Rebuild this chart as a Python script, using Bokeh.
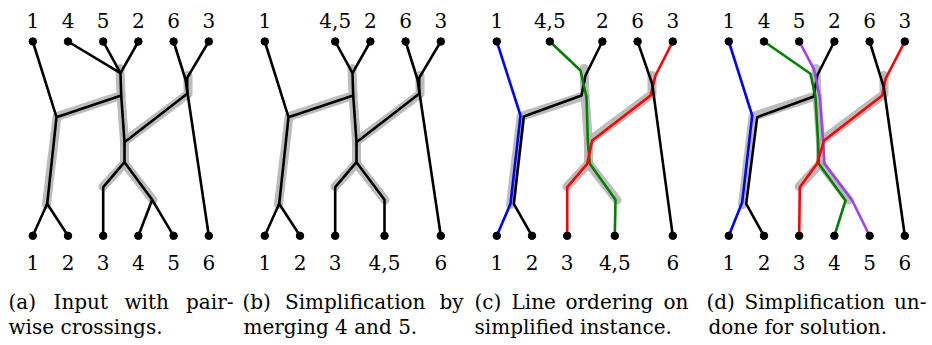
from bokeh.plotting import figure
from bokeh.models import Range1d
from bokeh.embed import file_html
from bokeh.resources import INLINE
from bokeh.core.properties import value

# ---------------- data (panel-local coordinates) ----------------
SLOT_X = [32.3, 67.5, 102.7, 137.9, 173.1, 208.3]
Y_TOP = 41.0
Y_BOT = 235.3
PANEL_DX = [0, 232, 464, 696]

# terminal labels / positions for each panel
TOP_LABELS = [["1", "4", "5", "2", "6", "3"],
              ["1", "4,5", "2", "6", "3"],
              ["1", "4,5", "2", "6", "3"],
              ["1", "4", "5", "2", "6", "3"]]
TOP_X = [[32.3, 67.5, 102.7, 137.9, 173.1, 208.3],
         [32.3, 102.7, 137.9, 173.1, 208.3],
         [32.3, 85.3, 137.9, 173.1, 208.3],
         [32.3, 67.5, 102.7, 137.9, 173.1, 208.3]]
BOT_LABELS = [["1", "2", "3", "4", "5", "6"],
              ["1", "2", "3", "4,5", "6"],
              ["1", "2", "3", "4,5", "6"],
              ["1", "2", "3", "4", "5", "6"]]
BOT_X = [[32.3, 67.5, 102.7, 137.9, 173.1, 208.3],
         [32.3, 67.5, 102.7, 152.0, 208.3],
         [32.3, 67.5, 102.7, 150.3, 208.3],
         [32.3, 67.5, 102.7, 137.9, 173.1, 208.3]]

# gray bundle shading (same in every panel)
GRAY_X = [[119.5, 120.5, 56.5, 46.0],
          [187.5, 187.5, 124.0, 124.0, 102.5],
          [120.5, 124.0],
          [124.0, 152.5]]
GRAY_Y = [[68.0, 95.0, 116.0, 204.0],
          [75.0, 93.5, 141.0, 163.0, 186.0],
          [95.0, 141.0],
          [163.0, 199.5]]

# panel (a): input edges
A_EDGE_X = [[32.3, 56.0, 46.7, 32.3],
            [46.7, 67.5],
            [67.5, 120.0],
            [102.7, 120.0],
            [137.9, 120.0, 120.7, 56.0],
            [208.3, 186.7, 186.7, 124.0, 124.0, 102.7, 102.7],
            [120.7, 124.0],
            [173.1, 185.0, 208.3],
            [124.0, 151.7, 173.1],
            [151.7, 137.9]]
A_EDGE_Y = [[41.0, 116.7, 203.3, 235.3],
            [203.3, 235.3],
            [41.0, 72.7],
            [41.0, 72.7],
            [41.0, 72.7, 95.0, 116.7],
            [41.0, 77.3, 93.3, 141.7, 161.7, 186.7, 235.3],
            [95.0, 141.7],
            [41.0, 79.0, 235.3],
            [161.7, 199.3, 235.3],
            [199.3, 235.3]]

# panel (b): simplified edges
B_EDGE_X = [[32.3, 56.0, 46.7, 32.3],
            [46.7, 67.5],
            [102.7, 120.0],
            [137.9, 120.0, 120.7, 56.0],
            [208.3, 186.7, 186.7, 124.0, 124.0, 102.7, 102.7],
            [120.7, 124.0],
            [173.1, 185.0, 208.3],
            [124.0, 152.0, 152.0]]
B_EDGE_Y = [[41.0, 116.7, 203.3, 235.3],
            [203.3, 235.3],
            [41.0, 72.7],
            [41.0, 72.7, 95.0, 116.7],
            [41.0, 77.3, 93.3, 141.7, 161.7, 186.7, 235.3],
            [95.0, 141.7],
            [41.0, 79.0, 235.3],
            [161.7, 199.3, 235.3]]

# panel (c): line ordering on simplified instance
C_LINE_X = [[32.3, 56.0, 46.0, 32.3],
            [137.9, 121.0, 117.0, 59.3, 49.3, 67.5],
            [85.3, 116.0, 122.0, 123.3, 125.3, 151.0, 150.3],
            [208.3, 191.0, 186.0, 127.7, 122.7, 102.7, 102.7],
            [173.1, 187.7, 208.3]]
C_LINE_Y = [[41.0, 115.0, 203.3, 235.3],
            [41.0, 75.0, 95.0, 116.0, 203.3, 235.3],
            [41.0, 70.0, 96.7, 140.0, 163.3, 199.3, 235.3],
            [41.0, 75.0, 95.0, 140.0, 163.3, 186.7, 235.3],
            [41.0, 83.3, 235.3]]
C_LINE_COLOR = ["#0000ff", "#000000", "#008000", "#ff0000", "#000000"]

# panel (d): simplification undone
D_LINE_X = [[32.3, 55.7, 45.7, 32.3],
            [137.9, 120.7, 117.3, 60.7, 49.7, 67.5],
            [67.5, 114.0, 119.0, 121.5, 122.3, 149.0, 137.9],
            [102.7, 117.3, 123.3, 126.5, 128.0, 155.7, 173.1],
            [208.3, 189.0, 185.7, 127.5, 120.5, 103.3, 102.7],
            [173.1, 187.3, 208.3]]
D_LINE_Y = [[41.0, 115.0, 201.7, 235.3],
            [41.0, 75.0, 96.0, 116.7, 203.3, 235.3],
            [41.0, 73.3, 96.7, 140.0, 163.3, 200.0, 235.3],
            [41.0, 68.3, 96.7, 140.0, 163.3, 200.0, 235.3],
            [41.0, 78.3, 95.0, 140.0, 163.3, 186.7, 235.3],
            [41.0, 86.7, 235.3]]
D_LINE_COLOR = ["#0000ff", "#000000", "#008000", "#a040f0", "#ff0000", "#000000"]

# captions: first (justified) line as words, second line as one string
CAPTION_LINE1_WORDS = [["(a)", "Input", "with", "pair-"],
                       ["(b)", "Simplification", "by"],
                       ["(c)", "Line", "ordering", "on"],
                       ["(d)", "Simplification", "un-"]]
CAPTION_LINE1_X = [[8, 53, 124, 233],
                   [242, 284.5, 463],
                   [474, 511, 565, 688],
                   [706, 744, 926]]
CAPTION_LINE2 = ["wise crossings.", "merging 4 and 5.",
                 "simplified instance.", "done for solution."]
CAPTION_LINE2_X = [8, 243, 474, 708]

# ---------------- figure ----------------
W, H = 932, 345
p = figure(width=W, height=H, output_backend="svg", toolbar_location=None,
           x_range=Range1d(0, W), y_range=Range1d(H, 0),
           x_axis_location=None, y_axis_location=None,
           min_border=0, outline_line_color=None,
           background_fill_color="white", border_fill_color="white")
p.min_border_left = p.min_border_right = p.min_border_top = p.min_border_bottom = 0
p.xgrid.visible = False
p.ygrid.visible = False

FONT = value("DejaVu Serif")
LW = 2.6
CAP_SIZE = "20px"
TOP_LABEL_Y = 20.0
BOT_LABEL_Y = 262.0
CAP_Y1 = 301.0
CAP_Y2 = 326.0

for k, dx in enumerate(PANEL_DX):
    # gray bundles
    p.multi_line([[v + dx for v in xs] for xs in GRAY_X], GRAY_Y,
                 line_color="#b5b5b5", line_width=9,
                 line_cap="round", line_join="round", line_alpha=0.9)
    if k == 0:
        p.multi_line([[v + dx for v in xs] for xs in A_EDGE_X], A_EDGE_Y,
                     line_color="black", line_width=LW, line_join="round")
    elif k == 1:
        p.multi_line([[v + dx for v in xs] for xs in B_EDGE_X], B_EDGE_Y,
                     line_color="black", line_width=LW, line_join="round")
    elif k == 2:
        for xs, ys, c in zip(C_LINE_X, C_LINE_Y, C_LINE_COLOR):
            p.line([v + dx for v in xs], ys, line_color=c, line_width=LW, line_join="round")
    else:
        for xs, ys, c in zip(D_LINE_X, D_LINE_Y, D_LINE_COLOR):
            p.line([v + dx for v in xs], ys, line_color=c, line_width=LW, line_join="round")

    # terminal dots
    tx = [v + dx for v in TOP_X[k]]
    bx = [v + dx for v in BOT_X[k]]
    p.scatter(tx, [Y_TOP] * len(tx), size=7.5, color="black")
    p.scatter(bx, [Y_BOT] * len(bx), size=7.5, color="black")

    # terminal labels
    p.text(tx, [TOP_LABEL_Y] * len(tx), text=TOP_LABELS[k], text_font=FONT,
           text_font_size="20px", text_align="center", text_baseline="alphabetic",
           text_color="black")
    p.text(bx, [BOT_LABEL_Y] * len(bx), text=BOT_LABELS[k], text_font=FONT,
           text_font_size="20px", text_align="center", text_baseline="alphabetic",
           text_color="black")

    # captions
    words = CAPTION_LINE1_WORDS[k]
    wx = CAPTION_LINE1_X[k]
    n = len(words)
    p.text(wx[:n - 1], [CAP_Y1] * (n - 1), text=words[:n - 1], text_font=FONT,
           text_font_size=CAP_SIZE, text_align="left", text_baseline="alphabetic",
           text_color="black")
    p.text([wx[-1]], [CAP_Y1], text=[words[-1]], text_font=FONT, text_font_size=CAP_SIZE,
           text_align="right", text_baseline="alphabetic", text_color="black")
    p.text([CAPTION_LINE2_X[k]], [CAP_Y2], text=[CAPTION_LINE2[k]], text_font=FONT,
           text_font_size=CAP_SIZE, text_align="left", text_baseline="alphabetic",
           text_color="black")

open("out.html", "w").write(file_html(p, INLINE))
